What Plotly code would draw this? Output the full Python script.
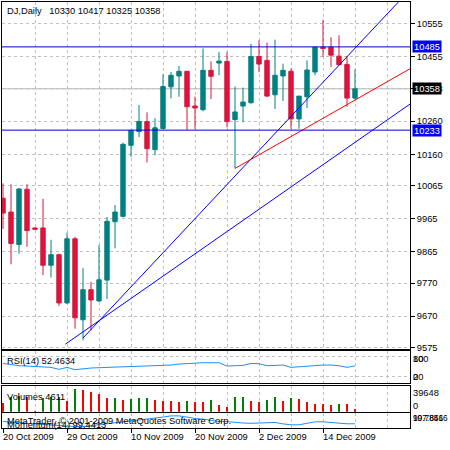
import plotly.graph_objects as go

# ---------------- data ----------------
opens = [10027, 9985, 9887, 10054, 9937, 9937, 9824, 9856, 9710, 9904,
         9659, 9750, 9716, 9779, 9956, 9972, 10187, 10229, 10259, 10174,
         10238, 10364, 10397, 10411, 10306, 10295, 10414, 10436, 10441, 10265,
         10306, 10316, 10456, 10444, 10340, 10397, 10411, 10267, 10334, 10409,
         10484, 10484, 10457, 10432, 10330]
highs = [10072, 10069, 10057, 10069, 9938, 10025, 9901, 9859, 9922, 9910,
         9815, 9774, 9886, 9970, 10006, 10195, 10233, 10309, 10287, 10269,
         10402, 10409, 10427, 10412, 10334, 10480, 10441, 10469, 10469, 10365,
         10362, 10494, 10505, 10498, 10507, 10434, 10420, 10336, 10444, 10485,
         10567, 10514, 10520, 10457, 10417]
lows = [9934, 9827, 9859, 9880, 9932, 9794, 9787, 9701, 9707, 9632,
        9597, 9627, 9713, 9722, 9875, 9969, 10152, 10212, 10135, 10157,
        10236, 10329, 10334, 10234, 10237, 10290, 10327, 10399, 10241, 10117,
        10257, 10313, 10408, 10334, 10297, 10321, 10237, 10237, 10300, 10399,
        10455, 10424, 10431, 10304, 10325]
closes = [9982, 9890, 10055, 9929, 9933, 9824, 9856, 9710, 9904, 9665,
          9750, 9719, 9780, 9957, 9985, 10190, 10232, 10259, 10177, 10240,
          10365, 10399, 10411, 10304, 10300, 10414, 10396, 10442, 10259, 10288,
          10318, 10456, 10433, 10336, 10399, 10414, 10267, 10336, 10415, 10484,
          10480, 10460, 10431, 10330, 10358]
volumes = [15700, 26200, 27000, 26100, 900, 24400, 25300, 26200, 19200, 39648,
           38900, 34900, 32000, 24400, 25000, 20400, 23200, 23700, 24400, 20100,
           19200, 18700, 17500, 19200, 17500, 16900, 20400, 12700, 8700, 26200,
           26700, 19200, 17500, 21000, 26200, 19200, 24400, 22700, 17500, 14000,
           13600, 12200, 14000, 13600, 4611]
rsi = [60, 56, 53, 52, 51, 50, 48, 42, 48, 41,
       44, 46, 47, 48, 49, 50, 50, 51, 51, 52,
       54, 55, 58, 60, 61, 62, 62, 62, 52, 52,
       54, 60, 59, 53, 55, 55, 48, 50, 53, 55,
       55, 55, 53, 48, 52.4634]
momentum = [100.2, 100.1, 99.9, 99.6, 99.4, 99.2, 99.0, 98.8, 98.8, 98.5,
            98.5, 98.8, 99.1, 99.4, 99.9, 100.2, 100.5, 100.8, 101.0, 101.3,
            101.7, 102.1, 102.1, 101.7, 101.2, 101.0, 100.5, 100.2, 100.2, 99.9,
            99.7, 99.6, 99.7, 99.9, 99.9, 99.4, 99.1, 99.1, 99.7, 100.1,
            100.1, 99.9, 99.5, 99.44, 99.4413]

date_labels = ["20 Oct 2009", "29 Oct 2009", "10 Nov 2009", "20 Nov 2009", "2 Dec 2009", "14 Dec 2009"]
date_pos = [0, 8, 16, 24, 32, 40]

price_ticks = [10555, 10455, 10358, 10260, 10160, 10065, 9965, 9865, 9770, 9670, 9575]
price_ticktext = ["10555", "10455", "10358", "10260", "10160", "10065", "9965", "9865", "9770", "9670", "9575"]

levels = [10485, 10233]
bid = 10358

# trendlines (anchor points: bar index, price)
tl_steep_k = [10, 52]
tl_steep_p = [9603.8, 10687.4]
tl_shallow_k = [7.8, 52]
tl_shallow_p = [9585.2, 10330.9]
tl_red_k = [29, 52]
tl_red_p = [10117, 10434.4]

# ---------------- styling ----------------
TEAL = "#008080"
CRIMSON = "#DC143C"
GRID = "#C0C0C0"
FONT = "Liberation Sans"
FS = 9.3
W = H = 450

idx = list(range(len(opens)))
vol_colors = ["#FF0000" if i == 0 or volumes[i] <= volumes[i - 1] else "#008000" for i in idx]


def py(px):
    return 1 - px / H


def pxx(px):
    return px / W


fig = go.Figure()

fig.add_trace(go.Candlestick(
    x=idx, open=opens, high=highs, low=lows, close=closes,
    increasing=dict(line=dict(color=TEAL, width=1), fillcolor=TEAL),
    decreasing=dict(line=dict(color=CRIMSON, width=1), fillcolor=CRIMSON),
    whiskerwidth=0, showlegend=False, hoverinfo="skip", xaxis="x", yaxis="y"))

for kk, pp, col in [(tl_steep_k, tl_steep_p, "#0000FF"),
                    (tl_shallow_k, tl_shallow_p, "#0000FF"),
                    (tl_red_k, tl_red_p, "#FF0000")]:
    fig.add_trace(go.Scatter(x=kk, y=pp, mode="lines", line=dict(color=col, width=1),
                             showlegend=False, hoverinfo="skip", xaxis="x", yaxis="y"))

fig.add_trace(go.Scatter(x=idx, y=rsi, mode="lines", line=dict(color="#1E90FF", width=1),
                         showlegend=False, hoverinfo="skip", xaxis="x2", yaxis="y2"))

fig.add_trace(go.Bar(x=idx, y=volumes, width=0.12, marker=dict(color=vol_colors, line=dict(width=0)),
                     showlegend=False, hoverinfo="skip", xaxis="x3", yaxis="y3"))

fig.add_trace(go.Scatter(x=idx, y=momentum, mode="lines", line=dict(color="#1E90FF", width=1),
                         showlegend=False, hoverinfo="skip", xaxis="x4", yaxis="y4"))

xr = [-0.125, 50.875]
grid_pos = list(range(0, 49, 4))
xcommon = dict(range=xr, domain=[pxx(2), pxx(410)], showline=True, linecolor="black", linewidth=1,
               mirror=True, zeroline=False, showticklabels=False, fixedrange=True)
xgrid = dict(tickmode="array", tickvals=grid_pos, ticks="", showgrid=True, gridcolor=GRID,
             griddash="3px,3px", gridwidth=1)

ycommon = dict(showline=True, linecolor="black", linewidth=1, mirror=True, zeroline=False,
               fixedrange=True)

fig.update_layout(
    width=W, height=H, margin=dict(l=0, r=0, t=0, b=0),
    paper_bgcolor="white", plot_bgcolor="white",
    font=dict(family=FONT, size=FS, color="black"),
    boxgap=0.45, boxgroupgap=0, bargap=0,
    xaxis=dict(**xcommon, **xgrid, anchor="y", rangeslider=dict(visible=False)),
    xaxis2=dict(**xcommon, **xgrid, anchor="y2", matches="x"),
    xaxis3=dict(**xcommon, **xgrid, anchor="y3", matches="x"),
    xaxis4=dict(**xcommon, anchor="y4", matches="x", tickmode="array", tickvals=date_pos,
                ticks="outside", ticklen=4, tickcolor="black", tickwidth=1,
                showgrid=True, gridcolor=GRID, griddash="3px,3px", gridwidth=1,
                minor=dict(tickmode="array", tickvals=[4, 12, 20, 28, 36, 44, 48], showgrid=True,
                           gridcolor=GRID, griddash="3px,3px", gridwidth=1, ticks="")),
    yaxis=dict(**ycommon, domain=[py(352), py(2)], range=[9570.9, 10620.9], side="right",
               anchor="x", tickmode="array", tickvals=price_ticks, ticktext=price_ticktext,
               ticks="outside", ticklen=4, tickcolor="black", showgrid=True, gridcolor=GRID,
               griddash="3px,3px", tickfont=dict(family=FONT, size=FS, color="black")),
    yaxis2=dict(**ycommon, domain=[py(386.7), py(354.3)], range=[0, 97], side="right", anchor="x2",
                tickmode="array", tickvals=[20, 80], showticklabels=False, ticks="",
                showgrid=True, gridcolor=GRID, griddash="3px,3px"),
    yaxis3=dict(**ycommon, domain=[py(415.5), py(389)], range=[-873, 45400], side="right",
                anchor="x3", showticklabels=False, ticks="", showgrid=False),
    yaxis4=dict(**ycommon, domain=[py(432), py(417)], range=[97.97, 102.97], side="right",
                anchor="x4", showticklabels=False, ticks="", showgrid=False),
)

# horizontal levels and bid line
for lv in levels:
    fig.add_shape(type="line", xref="x domain", yref="y", x0=0, x1=1, y0=lv, y1=lv,
                  line=dict(color="#0000CC", width=1), layer="above")
fig.add_shape(type="line", xref="x domain", yref="y", x0=0, x1=1, y0=bid, y1=bid,
              line=dict(color="#B4B4B4", width=1), layer="below")

ann = []


def label(text, x, y, yref="paper", color="black", bg=None, xanchor="left", size=FS, **kw):
    d = dict(text=text, x=x, y=y, xref="paper", yref=yref, showarrow=False, xanchor=xanchor,
             yanchor="middle", font=dict(family=FONT, size=size, color=color), borderpad=0)
    if bg:
        d.update(bgcolor=bg)
    d.update(kw)
    ann.append(d)


# price level boxes
for lv in levels:
    label(str(lv), pxx(412), lv, yref="y", color="white", bg="#0000FF", width=28, height=11)
label(str(bid), pxx(412), bid, yref="y", color="white", bg="#000000", width=28, height=11)

# titles
label("DJ,Daily\u00a0\u00a0\u00a0" + " ".join(str(v) for v in [opens[-1], highs[-1], lows[-1], closes[-1]]),
      pxx(5.5), py(11))
label("RSI(14) %.4f" % rsi[-1], pxx(5.5), py(364.5))
label("Volumes %d" % volumes[-1], pxx(5.5), py(401))
label("MetaTrader, \u00a9 2001-2009 MetaQuotes Software Corp.", pxx(5.5), py(424.5))
label("Momentum(14) %.4f" % momentum[-1], pxx(5.5), py(428.5))

# sub-panel scale labels (overlapping, as in the source)
label("100", pxx(412), py(362.3))
label("80", pxx(412), py(362.3))
label("20", pxx(412), py(380))
label("0", pxx(412), py(380))
label("39648", pxx(412), py(396.7))
label("0", pxx(412), py(409.3))
label("107.8416", pxx(412), py(421.7), size=8.3)
label("99.7856", pxx(412), py(421.7), size=8.3)

# date labels
for t, k in zip(date_labels, date_pos):
    ann.append(dict(text=t, x=k, y=py(440.5), xref="x4", yref="paper", showarrow=False,
                    xanchor="left", yanchor="middle", xshift=-1.5,
                    font=dict(family=FONT, size=FS, color="black"), borderpad=0))

fig.update_layout(annotations=ann)

fig.write_html("out.html")
